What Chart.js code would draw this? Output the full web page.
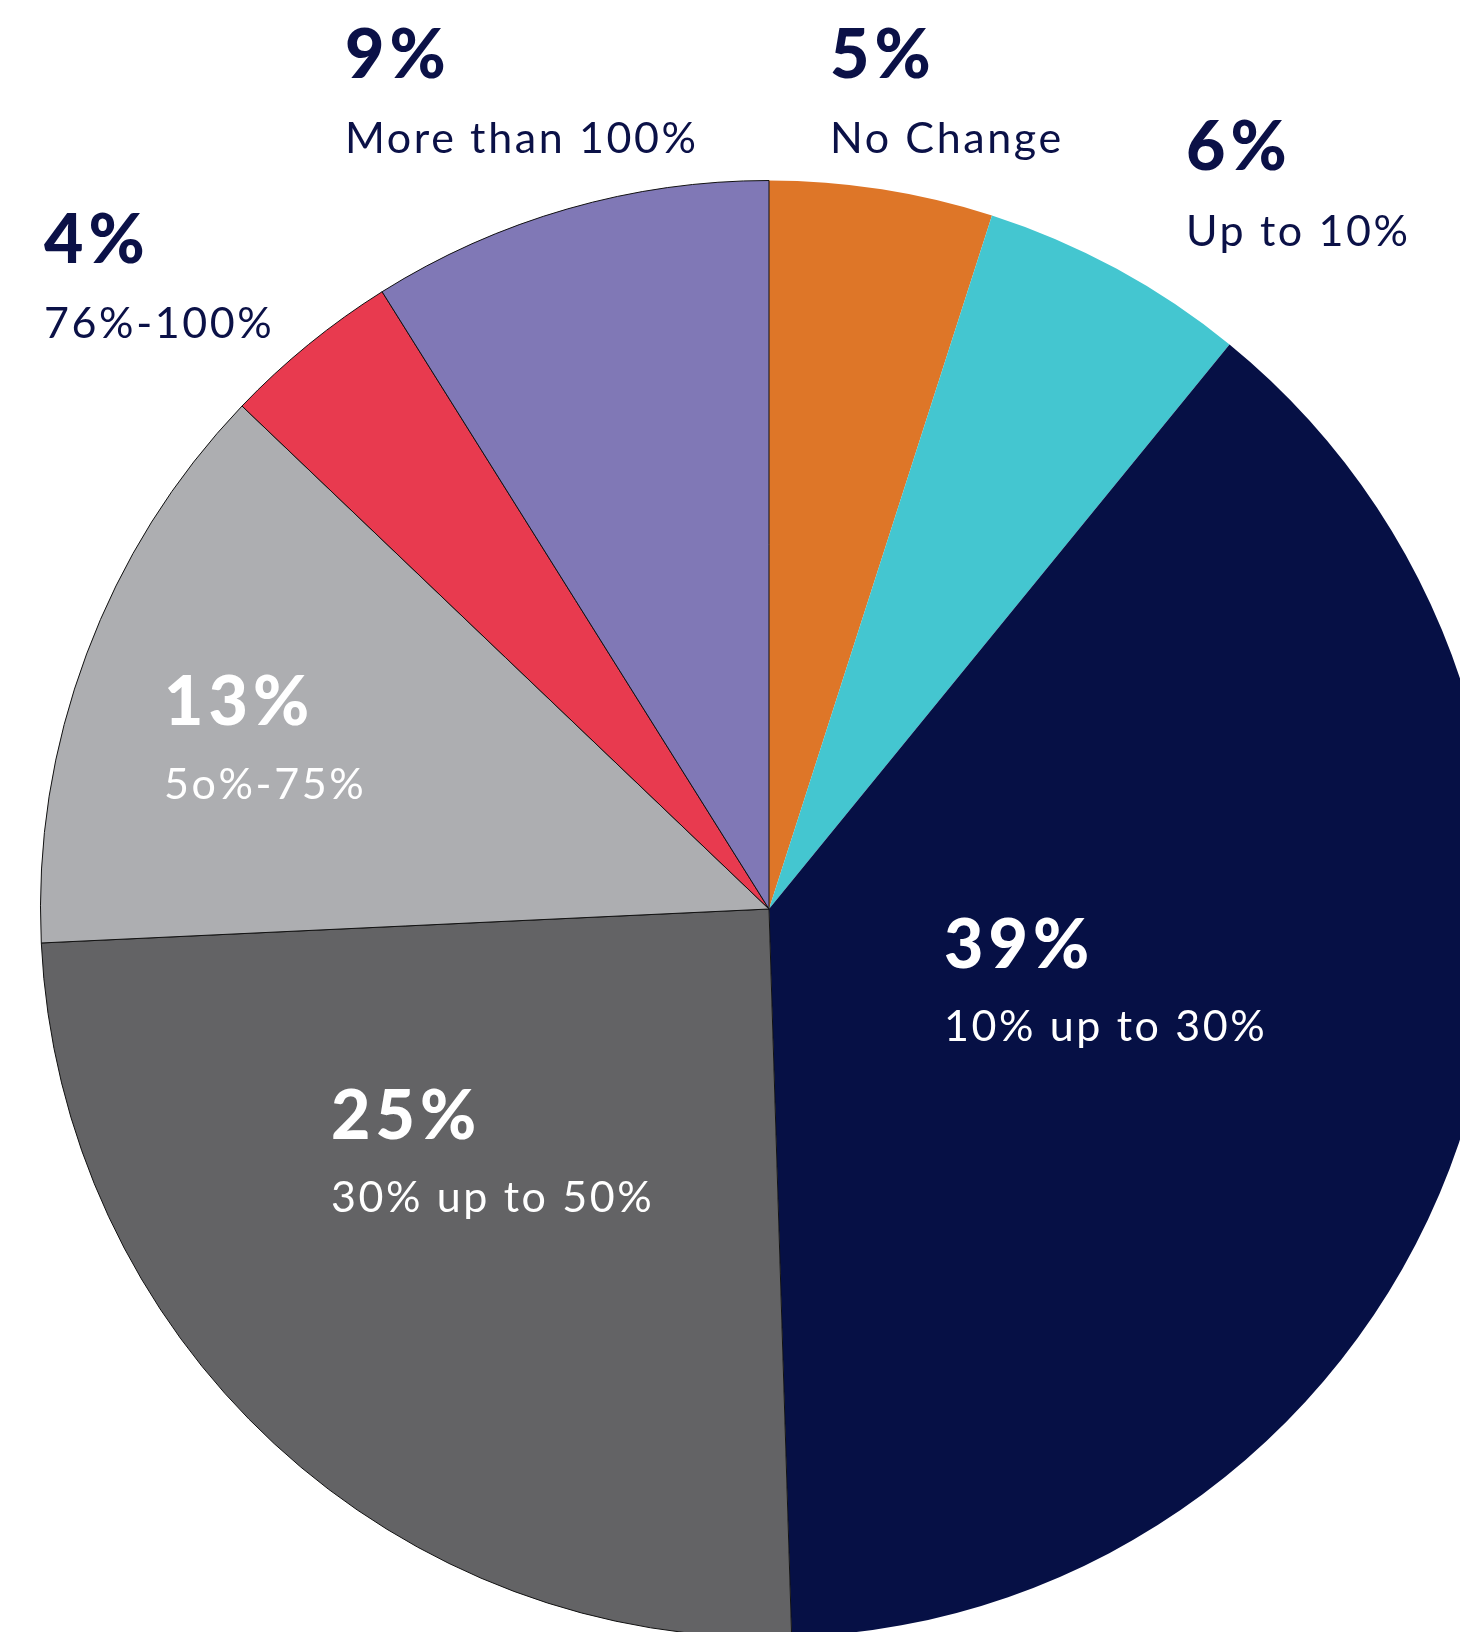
<!DOCTYPE html>
<html>
<head>
<meta charset="utf-8">
<script src="https://cdn.jsdelivr.net/npm/chart.js@4.4.1/dist/chart.umd.min.js"></script>
<style>
  html, body { margin: 0; padding: 0; background: #ffffff; overflow: hidden; width: 1460px; height: 1632px; }
  #wrap { position: absolute; left: 0; top: 0; width: 1538px; height: 1818px; }
</style>
</head>
<body>
<div id="wrap"><canvas id="pie" width="1538" height="1818"></canvas></div>
<script>
// Share of respondents by size of change
const categories = ['No Change', 'Up to 10%', '10% up to 30%', '30% up to 50%', '5o%-75%', '76%-100%', 'More than 100%'];
const shares = [5, 6, 39, 25, 13, 4, 9];
const valueLabels = ['5%', '6%', '39%', '25%', '13%', '4%', '9%'];

// Slice styling
const sliceColors = ['#DE7628', '#44C6D0', '#061045', '#636365', '#ADAEB1', '#E83A4F', '#8078B6'];
const sliceBorders = [0, 0, 0, 1, 1, 1, 1];
const textColors = ['#0B1147', '#0B1147', '#FFFFFF', '#FFFFFF', '#FFFFFF', '#0B1147', '#0B1147'];

// Where each label block sits (left x, baseline of the value line, baseline of the category line)
const labelPlacement = [
  { x: 830, y1: 78,  y2: 153 },
  { x: 1186, y1: 170, y2: 246 },
  { x: 944, y1: 968, y2: 1041 },
  { x: 331, y1: 1139, y2: 1212 },
  { x: 164, y1: 725, y2: 799 },
  { x: 44,  y1: 263, y2: 338 },
  { x: 345, y1: 78,  y2: 153 }
];

const labelPlugin = {
  id: 'sliceLabels',
  afterDatasetsDraw(chart) {
    const ctx = chart.ctx;
    ctx.save();
    ctx.textAlign = 'left';
    ctx.textBaseline = 'alphabetic';
    categories.forEach((cat, i) => {
      const p = labelPlacement[i];
      ctx.fillStyle = textColors[i];
      ctx.font = '900 68px Lato';
      ctx.letterSpacing = '5px';
      ctx.fillText(valueLabels[i], p.x, p.y1);
      ctx.font = '400 43px Lato';
      ctx.letterSpacing = '2.6px';
      ctx.fillText(cat, p.x, p.y2);
    });
    ctx.restore();
  }
};

new Chart(document.getElementById('pie'), {
  type: 'pie',
  data: {
    labels: categories,
    datasets: [{
      data: shares,
      backgroundColor: sliceColors,
      borderColor: '#111111',
      borderWidth: sliceBorders,
      borderAlign: 'center'
    }]
  },
  options: {
    responsive: false,
    animation: false,
    rotation: 0,
    layout: { padding: 40 },
    plugins: {
      legend: { display: false },
      tooltip: { enabled: false }
    }
  },
  plugins: [labelPlugin]
});
</script>
</body>
</html>
